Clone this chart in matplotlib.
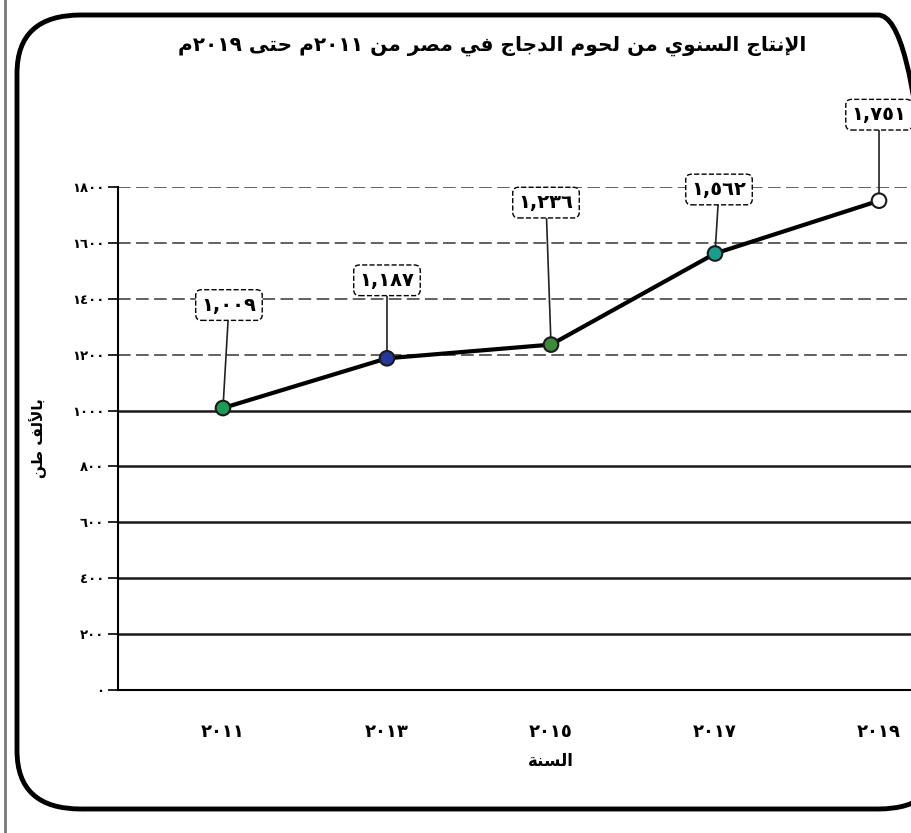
import re
from matplotlib import pyplot as plt
from matplotlib.patches import FancyBboxPatch
from matplotlib.lines import Line2D

# البيانات
years = ['٢٠١١', '٢٠١٣', '٢٠١٥', '٢٠١٧', '٢٠١٩']
production = [1009, 1187, 1236, 1562, 1751]
value_labels = ['١,٠٠٩', '١,١٨٧', '١,٢٣٦', '١,٥٦٢', '١,٧٥١']
point_colors = ['#1e9a55', '#23389a', '#3c8a3a', '#1c9c8c', '#ffffff']
y_ticks = [0, 200, 400, 600, 800, 1000, 1200, 1400, 1600, 1800]
y_tick_labels = ['٠', '٢٠٠', '٤٠٠', '٦٠٠', '٨٠٠', '١٠٠٠', '١٢٠٠', '١٤٠٠', '١٦٠٠', '١٨٠٠']

title = 'الإنتاج السنوي من لحوم الدجاج في مصر من ٢٠١١م حتى ٢٠١٩م'
xlabel = 'السنة'
ylabel = 'بالألف طن'

# offsets of the callouts (pixels)
label_offsets = [(6, 103), (0, 78), (-5, 142), (4, 64), (0, 86)]

# minimal arabic shaping (no arabic_reshaper available)
DUAL = {'ب': 0xFE8F, 'ت': 0xFE95, 'ث': 0xFE99, 'ج': 0xFE9D, 'ح': 0xFEA1, 'خ': 0xFEA5,
        'س': 0xFEB1, 'ش': 0xFEB5, 'ص': 0xFEB9, 'ض': 0xFEBD, 'ط': 0xFEC1, 'ظ': 0xFEC5,
        'ع': 0xFEC9, 'غ': 0xFECD, 'ف': 0xFED1, 'ق': 0xFED5, 'ك': 0xFED9, 'ل': 0xFEDD,
        'م': 0xFEE1, 'ن': 0xFEE5, 'ه': 0xFEE9, 'ي': 0xFEF1}
RIGHT = {'ا': 0xFE8D, 'أ': 0xFE83, 'إ': 0xFE87, 'آ': 0xFE81, 'ة': 0xFE93, 'د': 0xFEA9,
         'ذ': 0xFEAB, 'ر': 0xFEAD, 'ز': 0xFEAF, 'و': 0xFEED, 'ى': 0xFEEF}
LAMALEF = {'ا': 0xFEFB, 'أ': 0xFEF7, 'إ': 0xFEF9, 'آ': 0xFEF5}


def shape(s):
    chars = []
    i = 0
    while i < len(s):
        if s[i] == 'ل' and i + 1 < len(s) and s[i + 1] in LAMALEF:
            chars.append(('LA', s[i + 1]))
            i += 2
        else:
            chars.append(s[i])
            i += 1
    out = []
    for k, c in enumerate(chars):
        prev = chars[k - 1] if k > 0 else None
        nxt = chars[k + 1] if k + 1 < len(chars) else None
        p = prev in DUAL
        n = nxt is not None and (nxt in DUAL or nxt in RIGHT or isinstance(nxt, tuple))
        if isinstance(c, tuple):
            base = LAMALEF[c[1]]
            out.append(chr(base + 1 if p else base))
        elif c in DUAL:
            base = DUAL[c]
            if p and n:
                out.append(chr(base + 3))
            elif p:
                out.append(chr(base + 1))
            elif n:
                out.append(chr(base + 2))
            else:
                out.append(chr(base))
        elif c in RIGHT:
            base = RIGHT[c]
            out.append(chr(base + 1 if p else base))
        else:
            out.append(c)
    return ''.join(out)


def rtl(s):
    tokens = re.findall(r'[٠-٩0-9,]+|[^٠-٩0-9,]+', shape(s))
    return ''.join(t if re.match(r'[٠-٩0-9,]', t) else t[::-1] for t in reversed(tokens))


plt.rcParams['font.family'] = ['DejaVu Sans']

fig = plt.figure(figsize=(9.12, 8.33), dpi=100)

# rounded frame of the scanned chart
frame = FancyBboxPatch((17 / 912, 24 / 833), 925 / 912, 794 / 833,
                       boxstyle='round,pad=0,rounding_size=0.07',
                       transform=fig.transFigure, fill=False, ec='black', lw=3.5)
fig.patches.append(frame)
fig.add_artist(Line2D([5 / 912, 5 / 912], [0, 1], transform=fig.transFigure, color='#777', lw=2))

ax = fig.add_axes([118 / 912, 143 / 833, 866 / 912, 503 / 833])
x = list(range(len(years)))

ax.set_xlim(-0.64, 4.64)
ax.set_ylim(0, 1800)
ax.set_yticks(y_ticks)
ax.set_yticklabels(y_tick_labels, fontsize=9.5, fontweight='bold')
ax.set_xticks(x)
ax.set_xticklabels(years, fontsize=13, fontweight='bold')
ax.tick_params(axis='x', length=0, pad=24)
ax.tick_params(axis='y', length=7, width=1.2, pad=3)

ax.yaxis.grid(True, color='#1a1a1a', lw=1.8)
for val, gl in zip(y_ticks, ax.get_ygridlines()):
    if val >= 1200:
        gl.set_linestyle((0, (7, 3)))
        gl.set_color('#555555')
        gl.set_linewidth(1.3)
ax.set_axisbelow(True)

for side in ['top', 'right']:
    ax.spines[side].set_visible(False)
ax.spines['left'].set_linewidth(1.5)
ax.spines['bottom'].set_linewidth(1.5)

ax.plot(x, production, color='black', lw=3, zorder=3)
ax.scatter(x, production, s=110, c=point_colors, edgecolors='#1a1a1a', linewidths=1.5, zorder=4)

for xi, v, lab, off in zip(x, production, value_labels, label_offsets):
    ax.annotate(lab, xy=(xi, v), xytext=off, textcoords='offset pixels',
                ha='center', va='center', fontsize=14, fontweight='bold',
                annotation_clip=False,
                bbox=dict(boxstyle='round,pad=0.3', fc='white', ec='black', ls='--', lw=1),
                arrowprops=dict(arrowstyle='-', color='#222', lw=1.2, shrinkA=0, shrinkB=5))

ax.set_xlabel(rtl(xlabel), fontsize=12, fontweight='bold', labelpad=8)
ax.set_ylabel(rtl(ylabel), fontsize=11, fontweight='bold', labelpad=18)

fig.text(492 / 912, 1 - 46 / 833, rtl(title), ha='center', va='center',
         fontsize=14.5, fontweight='bold')

fig.savefig('out.png', dpi=100)
